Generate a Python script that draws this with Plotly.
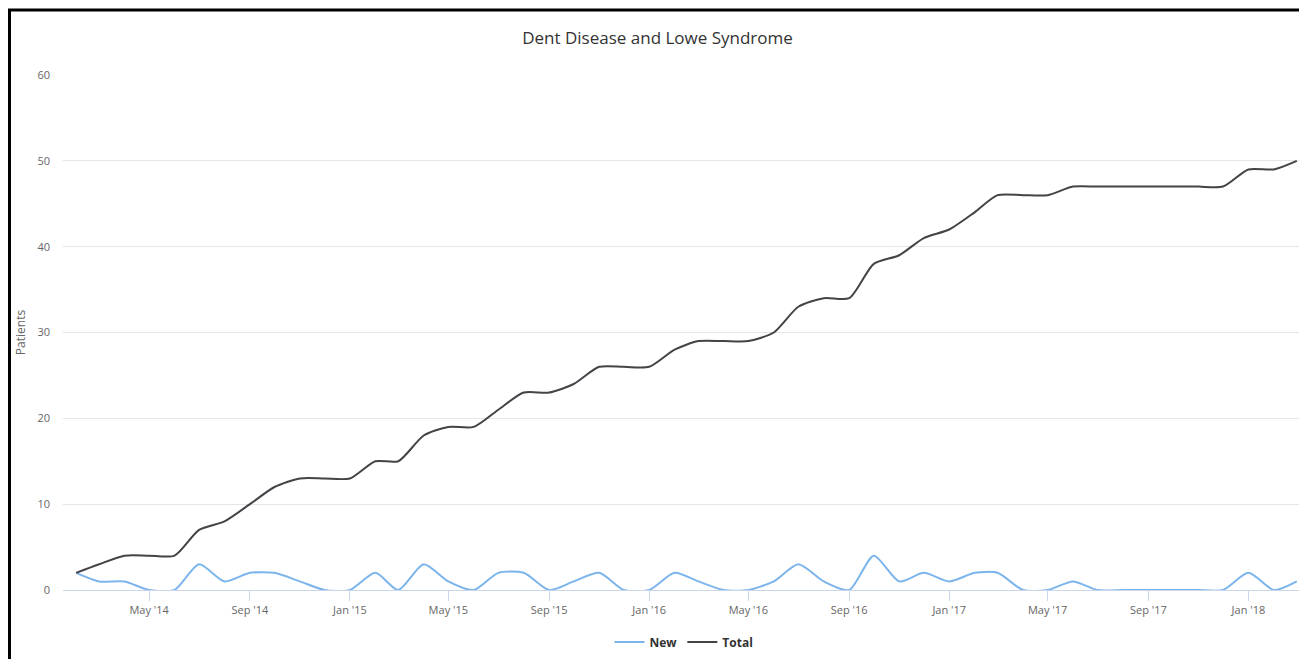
import plotly.graph_objects as go

months = ["2014-02-01", "2014-03-01", "2014-04-01", "2014-05-01", "2014-06-01", "2014-07-01",
          "2014-08-01", "2014-09-01", "2014-10-01", "2014-11-01", "2014-12-01",
          "2015-01-01", "2015-02-01", "2015-03-01", "2015-04-01", "2015-05-01", "2015-06-01",
          "2015-07-01", "2015-08-01", "2015-09-01", "2015-10-01", "2015-11-01", "2015-12-01",
          "2016-01-01", "2016-02-01", "2016-03-01", "2016-04-01", "2016-05-01", "2016-06-01",
          "2016-07-01", "2016-08-01", "2016-09-01", "2016-10-01", "2016-11-01", "2016-12-01",
          "2017-01-01", "2017-02-01", "2017-03-01", "2017-04-01", "2017-05-01", "2017-06-01",
          "2017-07-01", "2017-08-01", "2017-09-01", "2017-10-01", "2017-11-01", "2017-12-01",
          "2018-01-01", "2018-02-01", "2018-03-01"]

new_patients = [2, 1, 1, 0, 0, 3, 1, 2, 2, 1, 0,
                0, 2, 0, 3, 1, 0, 2, 2, 0, 1, 2, 0,
                0, 2, 1, 0, 0, 1, 3, 1, 0, 4, 1, 2,
                1, 2, 2, 0, 0, 1, 0, 0, 0, 0, 0, 0,
                2, 0, 1]

total_patients = [2, 3, 4, 4, 4, 7, 8, 10, 12, 13, 13,
                  13, 15, 15, 18, 19, 19, 21, 23, 23, 24, 26, 26,
                  26, 28, 29, 29, 29, 30, 33, 34, 34, 38, 39, 41,
                  42, 44, 46, 46, 46, 47, 47, 47, 47, 47, 47, 47,
                  49, 49, 50]

y_ticks = [0, 10, 20, 30, 40, 50, 60]

FONT = "Open Sans, Noto Sans, DejaVu Sans, sans-serif"

fig = go.Figure()
fig.add_trace(go.Scatter(x=months, y=new_patients, name="New", mode="lines",
                         line=dict(color="#7cb5ec", width=2, shape="spline", smoothing=0.7)))
fig.add_trace(go.Scatter(x=months, y=total_patients, name="Total", mode="lines",
                         line=dict(color="#434348", width=2, shape="spline", smoothing=0.7)))

# page offset: the page body has an 8px margin
OFF = 8
W, H = 1307 - OFF, 659 - OFF
# plot area in page pixels
L, R, T, B = 63, 1305, 75, 590

def px(x):
    return (x - L) / (R - L)

def py(y):
    return (B - y) / (B - T)

fig.update_layout(
    width=W, height=H,
    margin=dict(l=L - OFF, r=W - (R - OFF), t=T - OFF, b=H - (B - OFF)),
    paper_bgcolor="white", plot_bgcolor="white",
    font=dict(family=FONT, color="#666666", size=11),
    title=dict(text="Dent Disease and Lowe Syndrome", x=0.5, xanchor="center",
               y=1 - (38 - OFF) / H, yanchor="middle",
               font=dict(family=FONT, size=17, color="#333333")),
    showlegend=True,
    legend=dict(orientation="h", x=0.5, xanchor="center", y=py(642), yanchor="middle",
                font=dict(family=FONT, size=12, color="#333333", weight="bold"),
                itemwidth=30, bgcolor="rgba(0,0,0,0)"),
    xaxis=dict(type="date", range=["2014-01-16", "2018-03-11"],
               tick0="2014-01-01", dtick="M4", tickformat="%b '%y",
               showgrid=False, showline=True, linecolor="#ccd6eb", linewidth=1,
               ticks="outside", ticklen=10, tickcolor="#ccd6eb",
               tickfont=dict(size=11, color="#666666"), zeroline=False),
    yaxis=dict(range=[0, 60], tickvals=y_ticks, showgrid=True, gridcolor="#e6e6e6",
               gridwidth=1, zeroline=False, showline=False, ticks="",
               tickfont=dict(size=11, color="#666666"), ticklabelstandoff=12,
               title=dict(text="Patients", font=dict(size=12, color="#666666"), standoff=9)),
    shapes=[
        dict(type="line", xref="paper", yref="paper", x0=px(5), x1=px(1306), y0=py(10), y1=py(10),
             line=dict(color="black", width=3)),
        dict(type="line", xref="paper", yref="paper", x0=px(OFF + 1.5), x1=px(OFF + 1.5),
             y0=py(9), y1=py(665), line=dict(color="black", width=3)),
        dict(type="line", xref="paper", yref="paper", x0=px(1305), x1=px(1305), y0=py(9), y1=py(665),
             line=dict(color="#888888", width=1)),
    ],
)

fig.write_html("out.html")
